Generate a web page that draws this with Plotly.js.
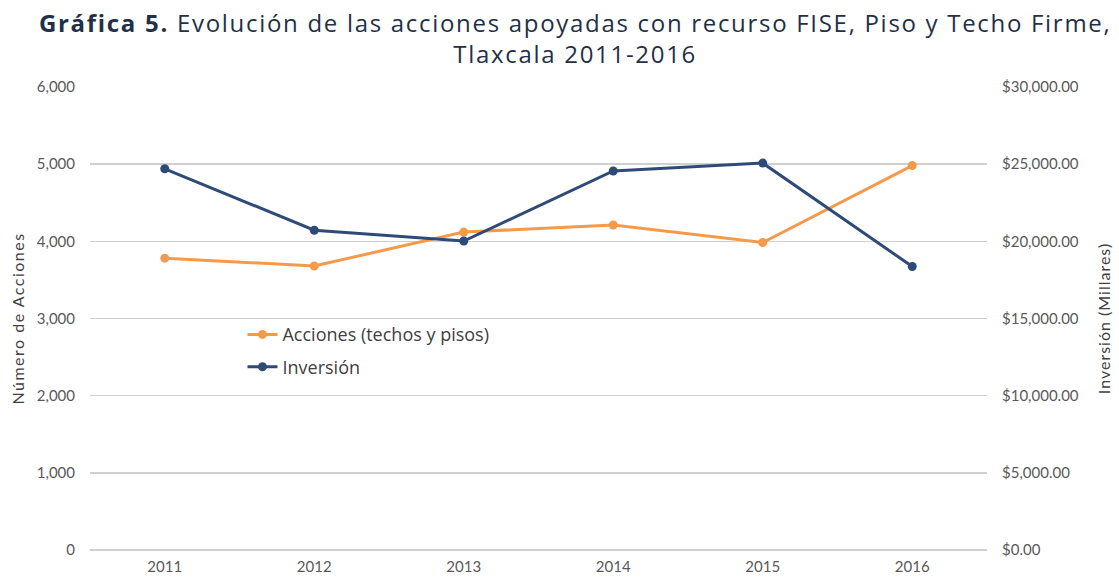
<!DOCTYPE html>
<html>
<head>
<meta charset="utf-8">
<script src="https://cdn.plot.ly/plotly-3.0.1.min.js"></script>
<style>
html,body{margin:0;padding:0;background:#fff;}
#chart{width:1119px;height:584px;}
#chart .g-gtitle text{letter-spacing:1.7px;}
#chart .g-ytitle text{letter-spacing:1.5px;}
#chart .g-y2title text{letter-spacing:1.0px;}
</style>
</head>
<body>
<div id="chart"></div>
<script>
const years = ["2011", "2012", "2013", "2014", "2015", "2016"];
const acciones = [3782, 3680, 4120, 4212, 3985, 4982];
const inversion = [24700, 20720, 20020, 24560, 25070, 18370];
const leftTicks = [0, 1000, 2000, 3000, 4000, 5000, 6000];
const rightTicks = [0, 5000, 10000, 15000, 20000, 25000, 30000];

const tickFont = {family: "Lato, 'Open Sans', sans-serif", size: 15, color: "#595959"};
const axisTitleFont = {family: "Lato, 'Open Sans', sans-serif", size: 16, color: "#404040"};

const traces = [
  {x: years, y: acciones, name: "Acciones (techos y pisos)", type: "scatter", mode: "lines+markers",
   legendgroup: "a",
   line: {color: "#F59A4A", width: 3}, marker: {color: "#F59A4A", size: 9}, yaxis: "y"},
  {x: years, y: inversion, name: "Inversión", type: "scatter", mode: "lines+markers",
   legendgroup: "b",
   line: {color: "#2E4B78", width: 3}, marker: {color: "#2E4B78", size: 9}, yaxis: "y2"}
];

const layout = {
  width: 1119, height: 584,
  margin: {l: 90, r: 132, t: 87, b: 34},
  paper_bgcolor: "#fff", plot_bgcolor: "#fff",
  title: {text: "<b>Gráfica 5.</b> Evolución de las acciones apoyadas con recurso FISE, Piso y Techo Firme,<br>Tlaxcala 2011-2016",
    font: {family: "'Open Sans', sans-serif", size: 24, color: "#1F3048"},
    x: 0.514, xanchor: "center", yref: "container", y: 0.945, yanchor: "top"},
  xaxis: {type: "category", range: [-0.5, 5.5], tickfont: tickFont, showgrid: false,
    showline: false, ticks: "", ticklabelstandoff: 6, fixedrange: true},
  yaxis: {range: [0, 6000], tickvals: leftTicks, tickformat: ",d", tickfont: tickFont,
    gridcolor: "#D0D0D0", gridwidth: 1.5, zeroline: true, zerolinecolor: "#D0D0D0", zerolinewidth: 1.5,
    showline: false, ticks: "", ticklabelstandoff: 14,
    title: {text: "Número de Acciones", font: axisTitleFont, standoff: 8}},
  yaxis2: {range: [0, 30000], tickvals: rightTicks, tickformat: "$,.2f", tickfont: tickFont,
    overlaying: "y", side: "right", showgrid: false, zeroline: false, showline: false, ticks: "",
    ticklabelstandoff: 14,
    title: {text: "Inversión (Millares)", font: axisTitleFont, standoff: 20}},
  legend: {x: 0.17, y: 0.505, xanchor: "left", yanchor: "top", bgcolor: "rgba(0,0,0,0)",
    font: {family: "'Open Sans', sans-serif", size: 18, color: "#404040"}, itemwidth: 30, tracegroupgap: 6},
  showlegend: true
};

Plotly.newPlot("chart", traces, layout, {displayModeBar: false, staticPlot: true});
</script>
</body>
</html>
